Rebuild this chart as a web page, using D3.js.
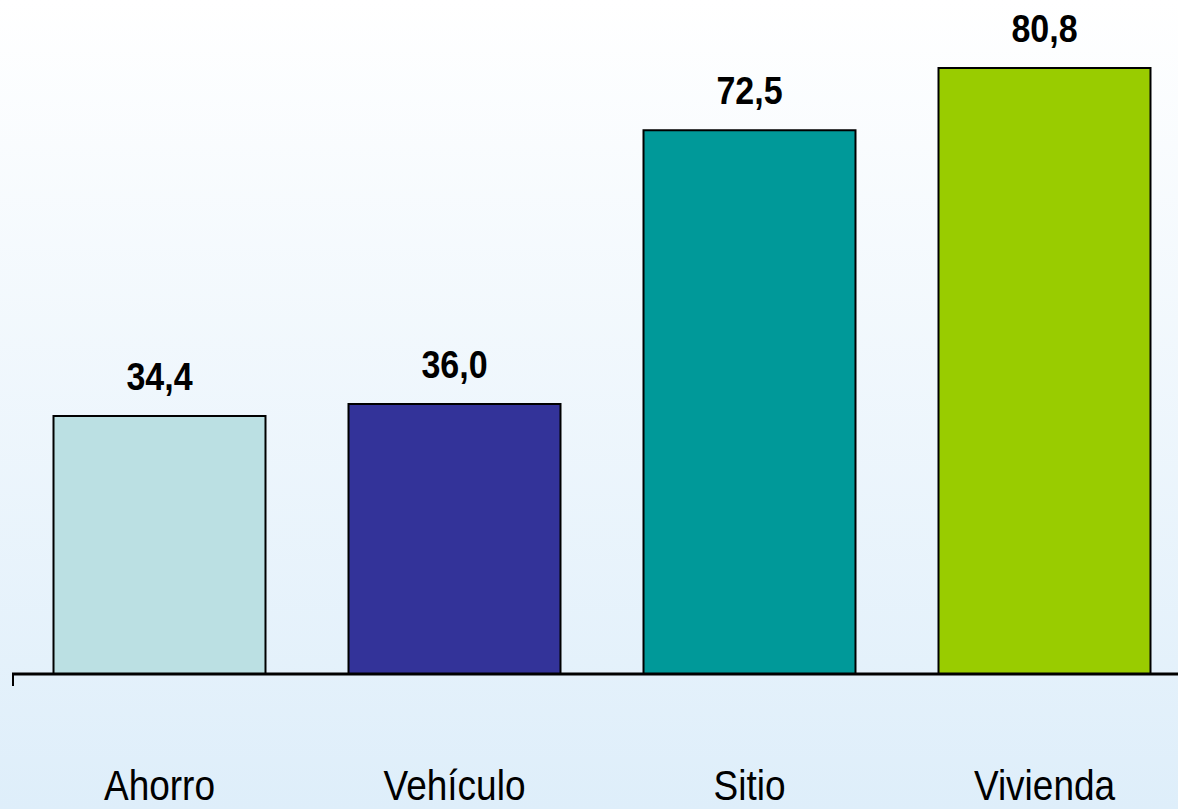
<!DOCTYPE html>
<html>
<head>
<meta charset="utf-8">
<script src="https://cdn.jsdelivr.net/npm/d3@7"></script>
<style>
  html, body { margin: 0; padding: 0; }
  svg { display: block; font-family: "Liberation Sans", Arial, sans-serif; }
</style>
</head>
<body>
<svg width="1178" height="809"></svg>
<script>
// chart values
let categories = ["Ahorro", "Vehículo", "Sitio", "Vivienda"]
let values = [34.4, 36.0, 72.5, 80.8]
let valueLabels = ["34,4", "36,0", "72,5", "80,8"]
let colors = ["#bbe0e3", "#333399", "#009999", "#99cc00"]

let svg = d3.select("svg")
let W = 1178, H = 809
let baseY = 674
// text in the original is a bit taller than wide
let stretch = 1.13

// background gradient, white on top to pale blue at bottom
let grad = svg.append("defs").append("linearGradient")
    .attr("id", "bg").attr("x1", 0).attr("y1", 0).attr("x2", 0).attr("y2", 1)
grad.append("stop").attr("offset", "0%").attr("stop-color", "#ffffff")
grad.append("stop").attr("offset", "100%").attr("stop-color", "#deeefa")
svg.append("rect").attr("width", W).attr("height", H).attr("fill", "url(#bg)")

let x = d3.scaleBand().domain(categories).range([12, 1192])
    .paddingInner(0.2814).paddingOuter(0.1407)
let y = d3.scaleLinear().domain([0, 80.8]).range([baseY, 68])

let rows = categories.map((c, i) => ({ cat: c, v: values[i], label: valueLabels[i], color: colors[i] }))

svg.selectAll("rect.bar").data(rows).enter().append("rect")
    .attr("class", "bar")
    .attr("x", d => x(d.cat))
    .attr("y", d => y(d.v))
    .attr("width", x.bandwidth())
    .attr("height", d => baseY - y(d.v))
    .attr("fill", d => d.color)
    .attr("stroke", "#000")
    .attr("stroke-width", 2)

// value labels over bars
svg.selectAll("text.val").data(rows).enter().append("text")
    .attr("class", "val")
    .attr("transform", d => `translate(${x(d.cat) + x.bandwidth() / 2},${y(d.v) - 26}) scale(1,${stretch})`)
    .attr("text-anchor", "middle")
    .attr("font-size", 34)
    .attr("font-weight", "bold")
    .text(d => d.label)

// axis line plus the small tick on the left
svg.append("line").attr("x1", 12).attr("x2", W).attr("y1", baseY).attr("y2", baseY)
    .attr("stroke", "#000").attr("stroke-width", 3)
svg.append("line").attr("x1", 13).attr("x2", 13).attr("y1", baseY).attr("y2", baseY + 12)
    .attr("stroke", "#000").attr("stroke-width", 2)

// category labels
svg.selectAll("text.cat").data(rows).enter().append("text")
    .attr("class", "cat")
    .attr("transform", d => `translate(${x(d.cat) + x.bandwidth() / 2},800) scale(1,${stretch})`)
    .attr("text-anchor", "middle")
    .attr("font-size", 37)
    .text(d => d.cat)
</script>
</body>
</html>
